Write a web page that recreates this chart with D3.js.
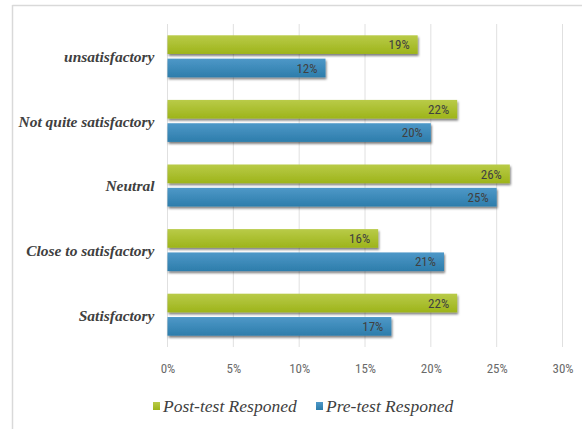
<!DOCTYPE html>
<html>
<head>
<meta charset="utf-8">
<script src="https://cdn.jsdelivr.net/npm/d3@7"></script>
<style>
  html, body { margin: 0; padding: 0; background: #fff; }
  svg { display: block; }
</style>
</head>
<body>
<svg id="chart" width="582" height="429"></svg>
<script>
const categories = ["unsatisfactory", "Not quite satisfactory", "Neutral", "Close to satisfactory", "Satisfactory"];
const seriesNames = ["Post-test Responed", "Pre-test Responed"];
const postValues = [19, 22, 26, 16, 22];
const preValues = [12, 20, 25, 21, 17];
const tickValues = [0, 5, 10, 15, 20, 25, 30];

const colors = { "Post-test Responed": ["#b9cb48", "#9db41a"], "Pre-test Responed": ["#4e98c8", "#2d7dab"] };
const serifFont = "'Liberation Serif', 'Times New Roman', serif";
const narrowFont = "'Roboto Condensed', 'Liberation Sans', sans-serif";

const svg = d3.select("#chart");
const defs = svg.append("defs");
seriesNames.forEach((s, i) => {
  const g = defs.append("linearGradient").attr("id", "grad" + i).attr("x1", 0).attr("y1", 0).attr("x2", 0).attr("y2", 1);
  g.append("stop").attr("offset", "0%").attr("stop-color", colors[s][0]);
  g.append("stop").attr("offset", "100%").attr("stop-color", colors[s][1]);
});
const f = defs.append("filter").attr("id", "shadow").attr("x", "-5%").attr("y", "-20%").attr("width", "110%").attr("height", "160%");
f.append("feDropShadow").attr("dx", 1).attr("dy", 2).attr("stdDeviation", 1.3).attr("flood-color", "#000").attr("flood-opacity", 0.5);

// border
svg.append("line").attr("x1", 12.5).attr("x2", 582).attr("y1", 5.5).attr("y2", 5.5).attr("stroke", "#d9d9d9").attr("stroke-width", 1.5);
svg.append("line").attr("x1", 12.5).attr("x2", 12.5).attr("y1", 5).attr("y2", 429).attr("stroke", "#d9d9d9").attr("stroke-width", 1.5);

const plot = { left: 167.5, right: 562.5, top: 24, bottom: 347 };
const x = d3.scaleLinear().domain([0, 30]).range([plot.left, plot.right]);
const y = d3.scaleBand().domain(categories).range([plot.top, plot.bottom]).paddingInner(0.35).paddingOuter(0.175);
const ys = d3.scaleBand().domain(seriesNames).range([0, y.bandwidth()]).paddingInner(0.2);

// grid
svg.append("g").selectAll("line").data(tickValues).join("line")
  .attr("x1", d => x(d)).attr("x2", d => x(d))
  .attr("y1", plot.top).attr("y2", plot.bottom)
  .attr("stroke", "#e0e0e0").attr("stroke-width", 1);

// x axis labels
const xAxis = d3.axisBottom(x).tickValues(tickValues).tickFormat(d => d + "%").tickSize(0).tickPadding(0);
const ax = svg.append("g").attr("transform", `translate(0, ${plot.bottom + 21})`).call(xAxis);
ax.select(".domain").remove();
ax.selectAll("text").attr("fill", "#6a6a6a").attr("font-family", narrowFont).attr("font-size", 13).attr("dy", "0.35em");

// y axis labels
const yAxis = d3.axisLeft(y).tickSize(0).tickPadding(13);
const ay = svg.append("g").attr("transform", `translate(${plot.left}, 0)`).call(yAxis);
ay.select(".domain").remove();
ay.selectAll("text").attr("fill", "#404040").attr("font-family", serifFont).attr("font-style", "italic").attr("font-weight", "bold").attr("font-size", 15.5).attr("dy", "0.38em");

const data = [];
categories.forEach((c, i) => {
  data.push({ cat: c, series: seriesNames[0], value: postValues[i], idx: 0 });
  data.push({ cat: c, series: seriesNames[1], value: preValues[i], idx: 1 });
});

const bars = svg.append("g");
bars.selectAll("rect").data(data).join("rect")
  .attr("x", x(0))
  .attr("y", d => y(d.cat) + ys(d.series))
  .attr("width", d => x(d.value) - x(0))
  .attr("height", ys.bandwidth())
  .attr("fill", d => `url(#grad${d.idx})`)
  .attr("filter", "url(#shadow)");

bars.selectAll("text").data(data).join("text")
  .attr("x", d => x(d.value) - 8)
  .attr("y", d => y(d.cat) + ys(d.series) + ys.bandwidth() / 2)
  .attr("dy", "0.36em")
  .attr("text-anchor", "end")
  .attr("fill", "#404040")
  .attr("font-family", narrowFont)
  .attr("font-size", 13)
  .text(d => d.value + "%");

// legend
const legendX = [153, 316];
const lg = svg.append("g").selectAll("g").data(seriesNames).join("g")
  .attr("transform", (d, i) => `translate(${legendX[i]}, 406)`);
lg.append("rect").attr("x", 0).attr("y", -4).attr("width", 7).attr("height", 8)
  .attr("fill", (d, i) => `url(#grad${i})`);
lg.append("text").attr("x", 10).attr("y", 0).attr("dy", "0.33em")
  .attr("fill", "#404040").attr("font-family", serifFont).attr("font-style", "italic")
  .attr("font-size", 17.5).text(d => d);
</script>
</body>
</html>
